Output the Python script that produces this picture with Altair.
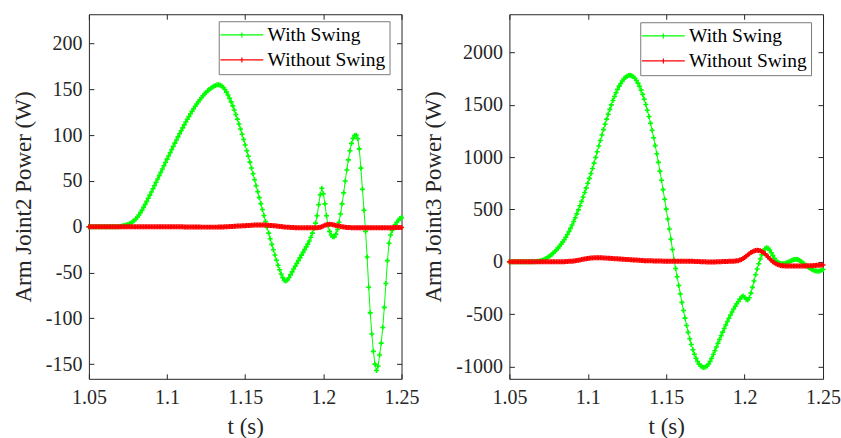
import altair as alt
import pandas as pd

# Sample instants, 1 ms apart: 1.050 s ... 1.250 s
t_ms = list(range(1050, 1251))
t_s = [m / 1000 for m in t_ms]

SERIES = ["With Swing", "Without Swing"]
COLORS = ["#00ff00", "#ff0000"]

x_ticks = [1.05, 1.1, 1.15, 1.2, 1.25]
j2_ticks = [-150, -100, -50, 0, 50, 100, 150, 200]
j3_ticks = [-1000, -500, 0, 500, 1000, 1500, 2000]

# Arm joint 2 power (W)
j2_with = [
    0, 0, 0, 0, 0, 0, 0, 0, 0, 0,
    0, 0, 0, 0, 0, 0, 0, 0, 0, 0.1,
    0.3, 0.6, 1, 1.5, 2, 2.6, 3.3, 4.2, 5.4, 6.8,
    8.5, 10.5, 12.8, 15.4, 18.2, 21.2, 24.4, 27.7, 31.1, 34.5,
    38, 41.5, 45, 48.6, 52.2, 55.8, 59.4, 63, 66.6, 70.2,
    73.8, 77.3, 80.8, 84.3, 87.8, 91.3, 94.7, 98.1, 101.5, 104.8,
    108, 111.2, 114.3, 117.4, 120.4, 123.3, 126.1, 128.9, 131.5, 134,
    136.4, 138.7, 140.9, 143, 144.9, 146.7, 148.4, 149.9, 151.2, 152.4,
    153.4, 154.3, 154.9, 155, 154.6, 153.6, 152, 149.8, 147, 143.8,
    140.2, 136.3, 132, 127.4, 122.6, 117.5, 112.2, 106.7, 101, 95.2,
    89.2, 83.1, 76.9, 70.6, 64.2, 57.8, 51.3, 44.8, 38.3, 31.8,
    25.3, 18.8, 12.3, 5.8, -0.6, -6.9, -13.1, -19.2, -25.1, -30.8,
    -36.5, -42, -47, -51.5, -55.5, -58.3, -59.3, -58.2, -55.6, -52.5,
    -49.3, -46.2, -43.1, -40, -37, -34, -31, -28, -25, -22,
    -19, -15.5, -11.5, -7, -2, 4, 12, 24, 35, 42,
    36, 25, 12, 1, -5, -9, -11, -11, -8, -3,
    5, 14, 25, 37, 50, 62, 73, 83, 91, 96.5,
    99.5, 100, 96, 85, 64, 41, 18, -5, -33, -66,
    -94, -117, -136, -150, -157, -152, -140, -127, -110, -88,
    -62, -37, -18, -9, -4, 0, 2.5, 5, 7, 9,
    10,
]
j2_without = [
    0, 0, 0, 0, 0, 0, 0, 0, 0, 0,
    0, 0, 0, 0, 0, 0, 0, 0, 0, 0,
    0, 0, 0, 0, 0, 0, 0, 0, 0, 0,
    0, 0, 0, 0, 0, 0, 0, 0, 0, 0,
    0, 0, 0, 0, 0, 0, 0, 0, 0, 0,
    0, 0, 0, 0, 0, 0, 0, 0, -0.1, -0.1,
    -0.1, -0.2, -0.2, -0.2, -0.3, -0.3, -0.3, -0.3, -0.3, -0.3,
    -0.3, -0.3, -0.4, -0.4, -0.4, -0.4, -0.4, -0.4, -0.4, -0.4,
    -0.4, -0.4, -0.4, -0.3, -0.3, -0.3, -0.2, -0.1, 0, 0.1,
    0.2, 0.3, 0.4, 0.5, 0.6, 0.7, 0.8, 0.9, 1, 1.1,
    1.2, 1.3, 1.4, 1.5, 1.6, 1.7, 1.8, 1.8, 1.9, 1.9,
    1.9, 1.9, 1.8, 1.8, 1.7, 1.6, 1.5, 1.4, 1.2, 1,
    0.8, 0.6, 0.4, 0.2, 0, -0.2, -0.4, -0.5, -0.6, -0.7,
    -0.8, -0.9, -1, -1, -1, -1.1, -1.1, -1.1, -1.1, -1.1,
    -1.1, -1.1, -1.1, -1.1, -1.1, -1.1, -1, -0.8, -0.5, 0,
    0.8, 1.6, 2.2, 2.6, 2.7, 2.6, 2.3, 1.9, 1.5, 1.1,
    0.7, 0.3, 0, -0.3, -0.5, -0.7, -0.8, -0.9, -1, -1,
    -1, -1, -1, -1, -1, -1, -1, -1, -1, -1,
    -1, -1, -1, -1, -1, -1, -1, -1, -1, -1,
    -1, -1, -1, -1, -1, -0.9, -0.9, -0.9, -0.8, -0.8,
    -0.8,
]

# Arm joint 3 power (W)
j3_with = [
    0, 0, 0, 0, 0, 0, 0, 0, 0, 0,
    0, 0, 0, 0, 0, 0, 0, 1, 3, 5,
    8, 13, 19, 27, 36, 46, 57, 68, 82, 97,
    113, 130, 148, 168, 189, 210, 233, 260, 288, 318,
    350, 384, 420, 457, 495, 535, 576, 618, 661, 705,
    750, 796, 843, 890, 942, 995, 1050, 1105, 1158, 1210,
    1262, 1313, 1362, 1409, 1455, 1498, 1540, 1578, 1614, 1647,
    1677, 1703, 1726, 1745, 1761, 1772, 1779, 1781, 1776, 1767,
    1752, 1731, 1706, 1675, 1639, 1598, 1552, 1502, 1447, 1387,
    1323, 1256, 1184, 1109, 1031, 949, 865, 778, 688, 596,
    502, 408, 312, 215, 117, 19, -65, -144, -227, -309,
    -389, -466, -539, -609, -675, -736, -791, -841, -885, -923,
    -954, -979, -997, -1007, -1011, -1007, -996, -978, -953, -922,
    -887, -851, -815, -779, -743, -708, -673, -639, -605, -572,
    -540, -509, -480, -452, -426, -402, -380, -358, -338, -328,
    -340, -358, -365, -345, -300, -245, -185, -125, -70, -20,
    25, 65, 100, 124, 134, 128, 110, 85, 58, 33,
    12, -3, -13, -18, -20, -19, -15, -9, -2, 5,
    12, 18, 22, 23, 20, 12, 2, -9, -21, -33,
    -45, -56, -66, -75, -82, -87, -90, -91, -89, -83,
    -75,
]
j3_without = [
    0, 0, 0, 0, 0, 0, 0, 0, 0, 0,
    0, 0, 0, 0, 0, 0, 0, 0, 0, 0,
    0, 0, 0, 0, 0, 0, 0, 0, 0, 0,
    0, 0, 0, 0, 0, 0, 1, 2, 3, 4,
    5, 7, 9, 11, 14, 17, 20, 23, 26, 29,
    31, 33, 35, 36, 37, 38, 38, 38, 38, 37,
    36, 35, 34, 33, 32, 31, 30, 29, 28, 27,
    26, 25, 24, 23, 22, 21, 20, 19, 18, 17,
    16, 15, 14, 13, 12, 11, 10, 10, 9, 9,
    8, 8, 7, 7, 7, 6, 6, 6, 5, 5,
    5, 5, 5, 5, 5, 5, 5, 5, 5, 5,
    5, 5, 5, 4, 4, 4, 3, 3, 2, 2,
    1, 1, 0, 0, -1, -1, -2, -2, -2, -2,
    -2, -2, -1, -1, 0, 0, 1, 1, 2, 2,
    3, 3, 4, 5, 6, 8, 10, 15, 22, 30,
    40, 52, 64, 76, 87, 96, 103, 107, 109, 108,
    104, 97, 87, 75, 60, 44, 28, 13, 0, -11,
    -20, -27, -32, -36, -38, -40, -41, -42, -42, -42,
    -42, -42, -42, -42, -42, -42, -42, -42, -41, -41,
    -40, -40, -39, -38, -37, -36, -35, -34, -33, -32,
    -31,
]

PLUS = "M-1,0H1M0,-1V1"
LEGEND_SYMBOL = "M-8.6,0H8.6M-1,0H1M0,-1V1"
INK = "#262626"
FONT = "Liberation Serif"


def panel(p_with, p_without, y_title, y_domain, y_ticks, width, lx, ly):
    df = pd.DataFrame({
        "t": t_s + t_s,
        "P": p_with + p_without,
        "series": [SERIES[0]] * len(t_s) + [SERIES[1]] * len(t_s),
    })
    x_scale = alt.Scale(domain=[1.05, 1.25], nice=False, zero=False)
    y_scale = alt.Scale(domain=y_domain, nice=False, zero=False)
    color = alt.Color(
        "series:N",
        scale=alt.Scale(domain=SERIES, range=COLORS),
        legend=alt.Legend(
            title=None, orient="none", legendX=lx, legendY=ly,
            symbolType=LEGEND_SYMBOL, symbolSize=25, symbolStrokeWidth=1.2,
            symbolOffset=9.4, labelOffset=16, padding=4, rowPadding=4,
            strokeColor="#7a7a7a", fillColor="white",
        ),
    )
    # bottom / left axes carry labels; ticks point into the plot
    lines = alt.Chart(df).mark_line(strokeWidth=1).encode(
        x=alt.X("t:Q", scale=x_scale, title="t (s)",
                axis=alt.Axis(orient="bottom", values=x_ticks, labelExpr="datum.value",
                              labelFlush=False, labelOverlap=False,
                              offset=-5, tickSize=5, domain=False,
                              labelPadding=9, titlePadding=8)),
        y=alt.Y("P:Q", scale=y_scale, title=y_title,
                axis=alt.Axis(orient="left", values=y_ticks, labelExpr="datum.value",
                              labelFlush=False, labelOverlap=False,
                              offset=-5, tickSize=5, domain=False,
                              labelPadding=7, titlePadding=10)),
        color=color,
    )
    # top / right axes: mirrored inward ticks only
    points = alt.Chart(df).mark_point(
        shape=PLUS, size=25, strokeWidth=1.6, filled=False, opacity=1
    ).encode(
        x=alt.X("t:Q", scale=x_scale, title=None,
                axis=alt.Axis(orient="top", values=x_ticks, labels=False,
                              offset=-5, tickSize=5, domain=False)),
        y=alt.Y("P:Q", scale=y_scale, title=None,
                axis=alt.Axis(orient="right", values=y_ticks, labels=False,
                              offset=-5, tickSize=5, domain=False)),
        color=color,
    )
    return (
        alt.layer(lines, points)
        .resolve_axis(x="independent", y="independent")
        .properties(width=width, height=365)
    )


left = panel(j2_with, j2_without, "Arm Joint2 Power (W)", [-166, 232], j2_ticks, 313, 130, 7)
right = panel(j3_with, j3_without, "Arm Joint3 Power (W)", [-1119, 2364], j3_ticks, 314, 131, 8)

chart = (
    alt.hconcat(left, right, spacing=108, bounds="flush")
    .resolve_scale(color="independent")
    .properties(padding={"left": 11, "top": 13, "right": 0, "bottom": 0}, background="white")
    .configure_view(stroke=INK, strokeWidth=1)
    .configure_axis(
        labelFont=FONT, labelFontSize=20, labelColor=INK,
        titleFont=FONT, titleFontSize=23, titleFontWeight="normal", titleColor=INK,
        tickColor=INK, tickWidth=1, grid=False,
    )
    .configure_legend(labelFont=FONT, labelFontSize=19.5, labelColor="black")
)

chart.save("out.html", embed_options={"renderer": "svg", "actions": False})
